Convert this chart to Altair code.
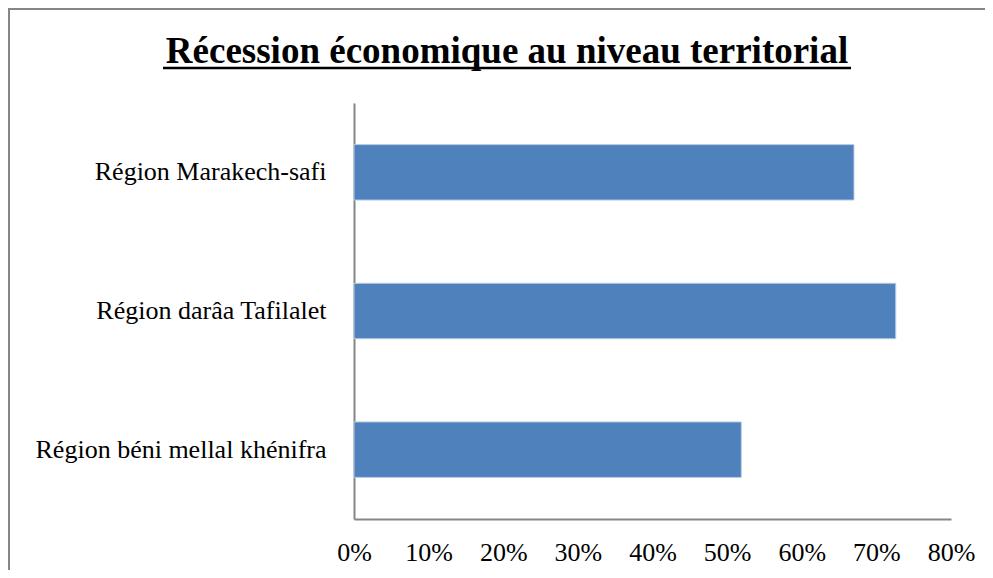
import altair as alt
import pandas as pd

title_text = "Récession économique au niveau territorial"
regions = ["Région Marakech-safi", "Région darâa Tafilalet", "Région béni mellal khénifra"]
values = [0.67, 0.726, 0.519]
tick_values = [0, 0.1, 0.2, 0.3, 0.4, 0.5, 0.6, 0.7, 0.8]

df = pd.DataFrame({"region": regions, "value": values})

FONT = "Liberation Serif"
GRAY = "#868686"

bars = alt.Chart(df).mark_bar(color="#4F81BD", stroke="#B9CDE5", strokeWidth=1).encode(
    x=alt.X("value:Q",
            scale=alt.Scale(domain=[0, 0.8], nice=False),
            axis=alt.Axis(values=tick_values, format=".0%", title=None, grid=False,
                          ticks=False, labelPadding=20, labelFont=FONT, labelFontSize=26,
                          labelColor="black", domainColor=GRAY, domainWidth=2,
                          labelFlush=False, labelOverlap=False)),
    y=alt.Y("region:N", sort=regions,
            scale=alt.Scale(paddingInner=0.6, paddingOuter=0.3),
            axis=alt.Axis(title=None, ticks=False, labelPadding=28, labelFont=FONT,
                          labelFontSize=26, labelColor="black", domainColor=GRAY,
                          domainWidth=2, labelLimit=400)),
)

title_df = pd.DataFrame({"t": [title_text]})
title = alt.Chart(title_df).mark_text(
    font=FONT, fontSize=37, fontWeight="bold", color="black",
    align="center", baseline="alphabetic"
).encode(text="t:N", x=alt.value(153), y=alt.value(-40))

underline = alt.Chart(title_df).mark_rule(color="black", strokeWidth=2.5).encode(
    x=alt.value(-191), x2=alt.value(497), y=alt.value(-35)
)

frame_top = alt.Chart(title_df).mark_rule(color=GRAY, strokeWidth=2).encode(
    x=alt.value(-346), x2=alt.value(700), y=alt.value(-94)
)
frame_left = alt.Chart(title_df).mark_rule(color=GRAY, strokeWidth=2).encode(
    x=alt.value(-345), y=alt.value(-95), y2=alt.value(600)
)

chart = alt.layer(frame_top, frame_left, bars, underline, title).properties(
    width=597, height=416,
    background="white",
    autosize=alt.AutoSizeParams(type="none"),
    padding={"left": 346, "top": 95, "right": 34, "bottom": 51},
).configure_view(strokeWidth=0, stroke=None)

chart.save("out.html", embed_options={"renderer": "svg", "actions": False})
